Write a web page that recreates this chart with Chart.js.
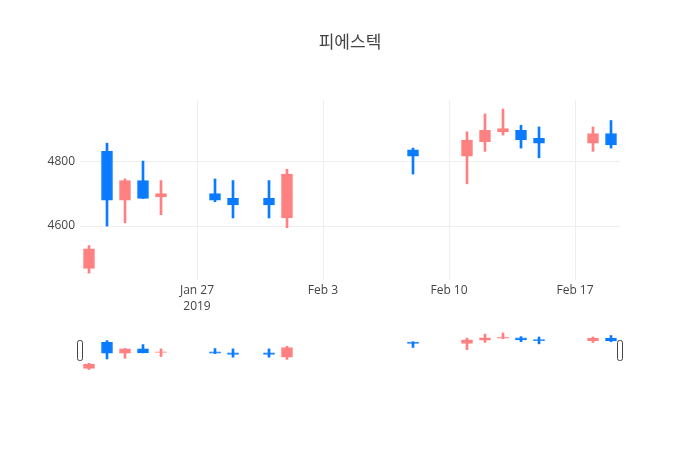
<!DOCTYPE html>
<html>
<head>
<meta charset="utf-8">
<script src="https://cdn.jsdelivr.net/npm/chart.js@4"></script>
<style>
  body { margin: 0; background: #fff; }
  #wrap { position: relative; width: 700px; height: 450px; }
  #main { position: absolute; left: 0; top: 0; }
  #slider { position: absolute; left: 70px; top: 331px; }
</style>
</head>
<body>
<div id="wrap">
  <canvas id="main" width="700" height="450"></canvas>
  <canvas id="slider" width="560" height="40"></canvas>
</div>
<script>
const title = '피에스텍';
const dates = ['2019-01-21', '2019-01-22', '2019-01-23', '2019-01-24', '2019-01-25', '2019-01-28', '2019-01-29',
  '2019-01-31', '2019-02-01', '2019-02-08', '2019-02-11', '2019-02-12', '2019-02-13', '2019-02-14', '2019-02-15',
  '2019-02-18', '2019-02-19'];
const open  = [4470, 4830, 4680, 4740, 4690, 4700, 4685, 4685, 4625, 4835, 4815, 4860, 4890, 4895, 4870, 4855, 4885];
const high  = [4540, 4855, 4745, 4800, 4740, 4745, 4740, 4740, 4775, 4840, 4890, 4945, 4960, 4910, 4905, 4905, 4925];
const low   = [4455, 4600, 4610, 4685, 4635, 4675, 4625, 4625, 4595, 4760, 4730, 4830, 4880, 4840, 4810, 4830, 4840];
const close = [4530, 4680, 4740, 4685, 4700, 4680, 4665, 4665, 4760, 4815, 4865, 4895, 4900, 4865, 4855, 4885, 4850];

const xTickDates = ['2019-01-27', '2019-02-03', '2019-02-10', '2019-02-17'];
const xTickLabels = [['Jan 27', '2019'], 'Feb 3', 'Feb 10', 'Feb 17'];
const yTicks = [4600, 4800];
const xRange = ['2019-01-20T12:00', '2019-02-19T12:00'];
const yRange = [4434, 4988];

const incColor = '#ff8080';
const decColor = '#0a7bff';
const font = '"Open Sans", "Noto Sans CJK KR", sans-serif';

// days since epoch, so a linear scale can act as a date axis
const toDay = s => Date.parse(s.length > 10 ? s + 'Z' : s + 'T00:00Z') / 86400000;
const days = dates.map(toDay);
const xTickDays = xTickDates.map(toDay);
const colors = open.map((o, i) => close[i] >= o ? incColor : decColor);

function candleSets() {
  return [
    {
      data: days.map((d, i) => ({ x: d, y: [low[i], high[i]] })),
      backgroundColor: colors,
      barThickness: 2,
      grouped: false,
      order: 2
    },
    {
      data: days.map((d, i) => ({ x: d, y: [open[i], close[i]] })),
      backgroundColor: colors,
      borderColor: colors,
      borderWidth: 1,
      borderSkipped: false,
      barThickness: 11,
      grouped: false,
      order: 1
    }
  ];
}

new Chart(document.getElementById('main'), {
  type: 'bar',
  data: { datasets: candleSets() },
  options: {
    responsive: false,
    animation: false,
    layout: { padding: { left: 0, right: 0, top: 0, bottom: 130 } },
    plugins: {
      legend: { display: false },
      tooltip: { enabled: false },
      title: {
        display: true,
        text: title,
        color: '#444',
        font: { family: font, size: 17, weight: 'normal' },
        padding: { top: 33, bottom: 46.6 }
      }
    },
    scales: {
      x: {
        type: 'linear',
        offset: false,
        min: toDay(xRange[0]),
        max: toDay(xRange[1]),
        grid: { color: '#eeeeee', drawTicks: false, offset: false },
        border: { display: false },
        afterBuildTicks: s => { s.ticks = xTickDays.map(v => ({ value: v })); },
        afterFit: s => { s.height = 40; },
        ticks: {
          autoSkip: false,
          maxRotation: 0,
          padding: 3,
          color: '#444',
          font: { family: font, size: 12, lineHeight: 1.3 },
          callback: v => xTickLabels[xTickDays.indexOf(v)]
        }
      },
      y: {
        min: yRange[0],
        max: yRange[1],
        grid: { color: '#eeeeee', drawTicks: false },
        border: { display: false },
        afterBuildTicks: s => { s.ticks = yTicks.map(v => ({ value: v })); },
        afterFit: s => { s.width = 80; },
        ticks: {
          padding: 5,
          color: '#444',
          font: { family: font, size: 12 },
          callback: v => String(v)
        }
      },
      // empty right-hand margin so the title centres on the page like plotly's
      yRight: {
        position: 'right',
        min: yRange[0],
        max: yRange[1],
        grid: { display: false },
        border: { display: false },
        ticks: { display: false },
        afterFit: s => { s.width = 80; }
      }
    }
  }
});

const handles = {
  id: 'handles',
  afterDraw(chart) {
    const { ctx, chartArea } = chart;
    [chartArea.left, chartArea.right].forEach(x => {
      ctx.save();
      ctx.fillStyle = '#fff';
      ctx.strokeStyle = '#444';
      ctx.lineWidth = 1;
      ctx.beginPath();
      ctx.roundRect(Math.round(x) - 2.5, 9.5, 5, 20, 2);
      ctx.fill();
      ctx.stroke();
      ctx.restore();
    });
  }
};

new Chart(document.getElementById('slider'), {
  type: 'bar',
  data: { datasets: candleSets() },
  plugins: [handles],
  options: {
    responsive: false,
    animation: false,
    layout: { padding: { left: 10, right: 10, top: 0, bottom: 0 } },
    plugins: { legend: { display: false }, tooltip: { enabled: false } },
    scales: {
      x: { type: 'linear', display: false, offset: false, min: toDay(xRange[0]), max: toDay(xRange[1]) },
      y: { display: false, min: yRange[0], max: yRange[1] }
    }
  }
});
</script>
</body>
</html>
